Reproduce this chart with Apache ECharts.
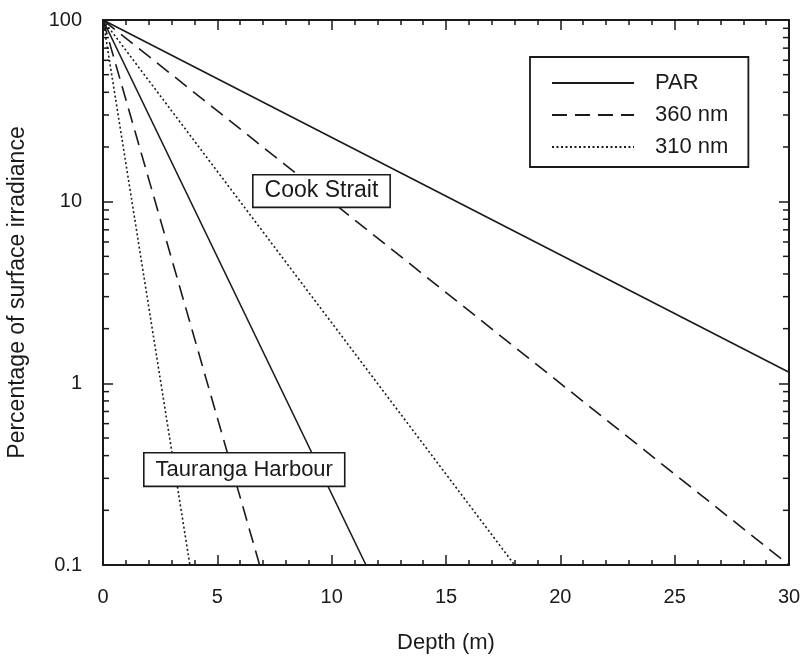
<!DOCTYPE html>
<html>
<head>
<meta charset="utf-8">
<script src="https://cdn.jsdelivr.net/npm/echarts@6/dist/echarts.min.js"></script>
<style>
  html, body { margin: 0; padding: 0; background: #fff; }
  #chart { width: 802px; height: 658px; }
</style>
</head>
<body>
<div id="chart"></div>
<script>
// depth (m) / percent of surface irradiance, start and end of each attenuation line
const cookPAR = [[0, 100], [30, 1.15]];
const cook360 = [[0, 100], [30, 0.1]];
const cook310 = [[0, 100], [18.0, 0.1]];
const taurPAR = [[0, 100], [11.5, 0.1]];
const taur360 = [[0, 100], [6.85, 0.1]];
const taur310 = [[0, 100], [3.8, 0.1]];

const legendNames = ['PAR', '360 nm', '310 nm'];
const yMinorTicks = [0.2, 0.3, 0.4, 0.5, 0.6, 0.7, 0.8, 0.9, 2, 3, 4, 5, 6, 7, 8, 9, 20, 30, 40, 50, 60, 70, 80, 90];

const FONT = 'Liberation Sans, Arial, Helvetica, sans-serif';
const INK = '#1a1a1a';

const styles = {
  'PAR': 'solid',
  '360 nm': [15, 8],
  '310 nm': [2, 2.5]
};

function lineSeries(name, data) {
  return {
    name: name,
    type: 'line',
    data: data,
    symbol: 'none',
    silent: true,
    itemStyle: { color: INK },
    lineStyle: { color: INK, width: 1.6, type: styles[name] },
    z: 3
  };
}

const chart = echarts.init(document.getElementById('chart'));

const xAxisBase = {
  type: 'value', min: 0, max: 30, interval: 5,
  axisLine: { show: true, onZero: false, lineStyle: { color: INK, width: 2 } },
  axisTick: { show: true, inside: true, length: 10, lineStyle: { color: INK, width: 1.5 } },
  minorTick: { show: true, splitNumber: 5, length: 5, lineStyle: { color: INK, width: 1.5 } },
  splitLine: { show: false }
};
const yAxisBase = {
  type: 'log', logBase: 10, min: 0.1, max: 100,
  axisLine: { show: true, onZero: false, lineStyle: { color: INK, width: 2 } },
  axisTick: { show: true, inside: true, length: 10, lineStyle: { color: INK, width: 1.5 } },
  splitLine: { show: false }
};

chart.setOption({
  animation: false,
  backgroundColor: '#fff',
  grid: { left: 103, right: 13, top: 20, bottom: 93, outerBoundsMode: 'none' },
  legend: {
    data: legendNames,
    orient: 'vertical',
    left: 530,
    top: 57,
    itemWidth: 82,
    itemHeight: 14,
    itemGap: 10,
    padding: [15, 20, 9, 21],
    borderColor: INK,
    borderWidth: 1.8,
    backgroundColor: '#fff',
    selectedMode: false,
    itemStyle: { opacity: 0 },
    textStyle: { fontFamily: FONT, fontSize: 22, color: INK, padding: [0, 0, 0, 16] }
  },
  xAxis: [
    Object.assign({}, xAxisBase, {
      position: 'bottom',
      name: 'Depth (m)',
      nameLocation: 'middle',
      nameGap: 67,
      nameTextStyle: { fontFamily: FONT, fontSize: 22, color: INK },
      axisLabel: { fontFamily: FONT, fontSize: 20, color: INK, margin: 22 }
    }),
    Object.assign({}, xAxisBase, { position: 'top', axisLabel: { show: false } })
  ],
  yAxis: [
    Object.assign({}, yAxisBase, {
      position: 'left',
      name: 'Percentage of surface irradiance',
      nameLocation: 'middle',
      nameGap: 74,
      nameTextStyle: { fontFamily: FONT, fontSize: 23, color: INK },
      axisLabel: { fontFamily: FONT, fontSize: 20, color: INK, margin: 21 }
    }),
    Object.assign({}, yAxisBase, { position: 'right', axisLabel: { show: false } })
  ],
  series: [
    lineSeries('PAR', cookPAR),
    lineSeries('360 nm', cook360),
    lineSeries('310 nm', cook310),
    lineSeries('PAR', taurPAR),
    lineSeries('360 nm', taur360),
    lineSeries('310 nm', taur310),
    {
      // minor log ticks on left and right frame
      type: 'custom',
      silent: true,
      data: yMinorTicks.map(v => [0, v]),
      encode: { x: 0, y: 1 },
      renderItem: function (params, api) {
        const p = api.coord([0, api.value(1)]);
        const cs = params.coordSys;
        const st = { stroke: INK, lineWidth: 1.5 };
        return {
          type: 'group',
          children: [
            { type: 'line', shape: { x1: cs.x, y1: p[1], x2: cs.x + 6, y2: p[1] }, style: st },
            { type: 'line', shape: { x1: cs.x + cs.width, y1: p[1], x2: cs.x + cs.width - 6, y2: p[1] }, style: st }
          ]
        };
      },
      z: 4
    }
  ],
  graphic: [
    {
      type: 'text', left: 252, top: 174, z: 10,
      style: {
        text: 'Cook Strait', font: '23px ' + FONT, fill: INK,
        backgroundColor: '#fff', borderColor: INK, borderWidth: 1.6,
        padding: [4, 11, 4, 11]
      }
    },
    {
      type: 'text', left: 143, top: 452, z: 10,
      style: {
        text: 'Tauranga Harbour', font: '22px ' + FONT, fill: INK,
        backgroundColor: '#fff', borderColor: INK, borderWidth: 1.6,
        padding: [5, 11, 5, 11]
      }
    }
  ]
});
</script>
</body>
</html>
